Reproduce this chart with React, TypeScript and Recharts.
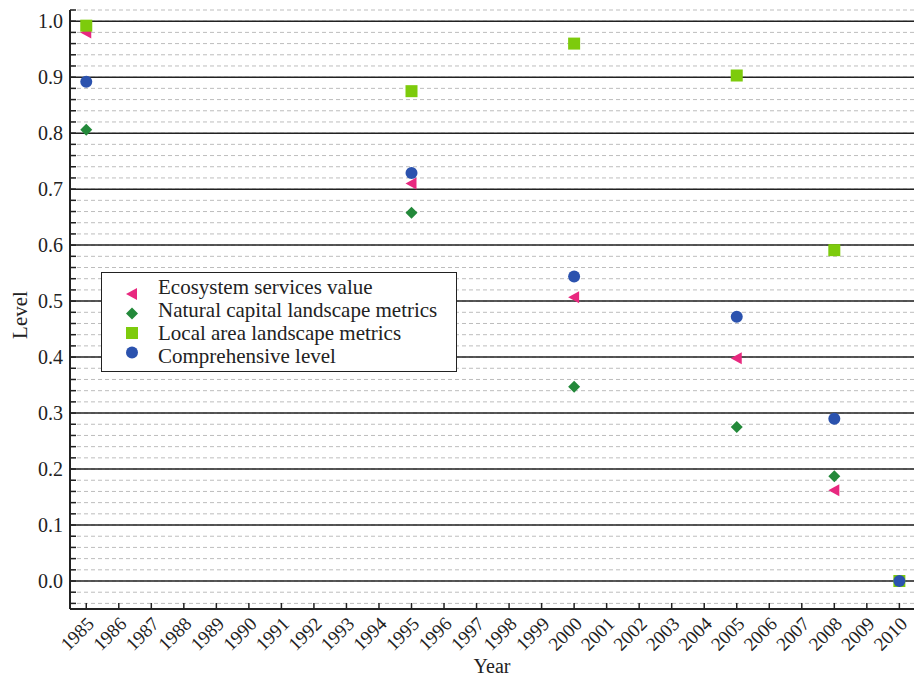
import React from "react";
import {
  ScatterChart,
  Scatter,
  XAxis,
  YAxis,
  CartesianGrid,
  ReferenceLine,
  Legend,
  Label,
} from "recharts";

const years = [1985, 1995, 2000, 2005, 2008, 2010];
const ecosystemValue = [0.98, 0.71, 0.507, 0.398, 0.162, 0];
const naturalCapital = [0.806, 0.658, 0.347, 0.275, 0.187, 0];
const localArea = [0.992, 0.875, 0.96, 0.903, 0.591, 0];
const comprehensive = [0.892, 0.729, 0.544, 0.472, 0.29, 0];

const yearTicks = [
  1985, 1986, 1987, 1988, 1989, 1990, 1991, 1992, 1993, 1994, 1995, 1996, 1997,
  1998, 1999, 2000, 2001, 2002, 2003, 2004, 2005, 2006, 2007, 2008, 2009, 2010,
];
const majorTicks = [0, 0.1, 0.2, 0.3, 0.4, 0.5, 0.6, 0.7, 0.8, 0.9, 1.0];
// minor ticks every 0.02 from -0.04 to 1.02
const minorTicks = Array.from({ length: 54 }, (_, i) => Math.round((i * 0.02 - 0.04) * 100) / 100);

const FONT = "'Liberation Serif', 'Times New Roman', serif";
const TEXT = "#222";

const PINK = "#e8287f";
const GREEN = "#23893a";
const LIME = "#7dcb0c";
const BLUE = "#2b52ae";

const toPoints = (vals: number[]) => years.map((year, i) => ({ year, value: vals[i] }));

const LeftTriangle = ({ cx, cy, fill }: any) => (
  <polygon points={`${cx - 6},${cy} ${cx + 5},${cy - 6} ${cx + 5},${cy + 6}`} fill={fill} />
);
const Diamond = ({ cx, cy, fill }: any) => (
  <polygon points={`${cx},${cy - 6} ${cx + 6},${cy} ${cx},${cy + 6} ${cx - 6},${cy}`} fill={fill} />
);
const Square = ({ cx, cy, fill }: any) => (
  <rect x={cx - 6} y={cy - 6} width={12} height={12} fill={fill} />
);
const Dot = ({ cx, cy, fill }: any) => <circle cx={cx} cy={cy} r={6} fill={fill} />;

const series = [
  { name: "Ecosystem services value", data: ecosystemValue, color: PINK, Shape: LeftTriangle },
  { name: "Natural capital landscape metrics", data: naturalCapital, color: GREEN, Shape: Diamond },
  { name: "Local area landscape metrics", data: localArea, color: LIME, Shape: Square },
  { name: "Comprehensive level", data: comprehensive, color: BLUE, Shape: Dot },
];

const YTick = ({ x, y, payload }: any) => {
  const v = payload.value;
  const isMajor = v >= 0 && Math.abs(v * 10 - Math.round(v * 10)) < 1e-6;
  const axisX = x + 7;
  return (
    <g>
      <line x1={axisX} x2={axisX + 6} y1={y} y2={y} stroke="#222" strokeWidth={1.5} />
      {isMajor && (
        <text x={x} y={y} dy="0.35em" textAnchor="end" fontSize={20} fontFamily={FONT} fill={TEXT}>
          {v.toFixed(1)}
        </text>
      )}
    </g>
  );
};

const XTick = ({ x, y, payload }: any) => (
  <g>
    <line x1={x} x2={x} y1={y} y2={y - 6} stroke="#222" strokeWidth={1.5} />
    <g transform={`translate(${x + 9},${y + 16})`}>
      <text
        transform="rotate(-45)"
        textAnchor="end"
        fontSize="19px"
        fontFamily={FONT}
        fill={TEXT}
      >
        {payload.value}
      </text>
    </g>
  </g>
);

const LegendBox = () => (
  <div
    style={{
      position: "relative",
      width: 354,
      height: 98,
      border: "1.5px solid #222",
      background: "#fff",
      fontFamily: FONT,
      fontSize: 21,
      color: TEXT,
    }}
  >
    <svg width={60} height={98} style={{ position: "absolute", left: 0, top: 0 }}>
      {series.map((s, i) => (
        <s.Shape key={s.name} cx={30} cy={21 + i * 19.5} fill={s.color} />
      ))}
    </svg>
    <div style={{ position: "absolute", left: 56, top: 3 }}>
      {series.map((s) => (
        <div key={s.name} style={{ lineHeight: "23px", whiteSpace: "nowrap" }}>
          {s.name}
        </div>
      ))}
    </div>
  </div>
);

export default function App() {
  return (
    <div style={{ position: "absolute", left: 0, top: 0, background: "#fff" }}>
      <ScatterChart width={914} height={677} margin={{ top: 10, right: 0, left: 0, bottom: 0 }}>
        <CartesianGrid
          vertical={false}
          stroke="#bdbdbd"
          strokeDasharray="4 3"
          horizontalValues={minorTicks}
        />
        {majorTicks.map((t) => (
          <ReferenceLine key={t} y={t} stroke="#222" strokeWidth={1.5} />
        ))}
        <XAxis
          type="number"
          dataKey="year"
          domain={[1984.5, 2010.45]}
          ticks={yearTicks}
          interval={0}
          allowDataOverflow
          tick={(props: any) => <XTick {...props} />}
          tickLine={false}
          tickSize={0}
          tickMargin={0}
          height={68}
          axisLine={{ stroke: "#222", strokeWidth: 2 }}
        >
          <Label value="Year" position="insideBottom" offset={4} fontSize={20} fontFamily={FONT} fill={TEXT} />
        </XAxis>
        <YAxis
          type="number"
          dataKey="value"
          domain={[-0.05, 1.02]}
          ticks={minorTicks}
          interval={0}
          allowDataOverflow
          width={70}
          tick={<YTick />}
          tickLine={false}
          tickSize={0}
          tickMargin={7}
          axisLine={{ stroke: "#222", strokeWidth: 2 }}
        >
          <Label
            content={() => (
              <text
                transform="translate(27,315) rotate(-90)"
                textAnchor="middle"
                fontSize={21}
                fontFamily={FONT}
                fill={TEXT}
              >
                Level
              </text>
            )}
          />
        </YAxis>
        <Legend
          layout="horizontal"
          verticalAlign="middle"
          align="center"
          wrapperStyle={{ left: 101, top: 272, width: "auto" }}
          content={() => <LegendBox />}
        />
        {series.map((s) => (
          <Scatter
            key={s.name}
            name={s.name}
            data={toPoints(s.data)}
            fill={s.color}
            isAnimationActive={false}
            shape={(p: any) => <s.Shape cx={p.cx} cy={p.cy} fill={s.color} />}
          />
        ))}
      </ScatterChart>
    </div>
  );
}
